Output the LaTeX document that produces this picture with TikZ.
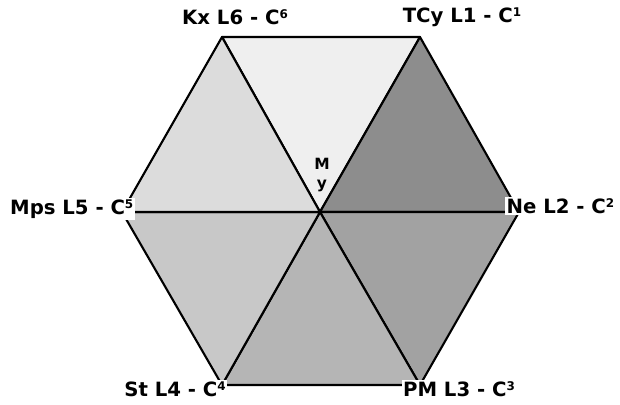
\documentclass[tikz,border=0pt]{standalone}
\usepackage{fontspec}
\setmainfont{DejaVu Sans}
\usetikzlibrary{calc,positioning}

\newcommand{\supdig}[1]{\raisebox{0.55ex}{\fontsize{8.5}{9}\selectfont #1}}

\begin{document}
\begin{tikzpicture}[x=0.025cm,y=-0.025cm,
                    sector/.style={draw=black,line width=1.5pt,line join=round},
                    tip node/.style={fill=white,inner sep=1pt,font=\bfseries\fontsize{14}{16}\selectfont}]
  \useasboundingbox (0,0) rectangle (620,404);

  \coordinate (O) at (320,212);
  \coordinate (v1) at (420,37);
  \coordinate (v2) at (519,212);
  \coordinate (v3) at (420,385);
  \coordinate (v4) at (222,385);
  \coordinate (v5) at (122,212);
  \coordinate (v6) at (222,37);

  % six sectors
  \filldraw[sector,fill={rgb,255:red,239;green,239;blue,239}] (O) -- (v6) -- (v1) -- cycle;
  \filldraw[sector,fill={rgb,255:red,141;green,141;blue,141}] (O) -- (v1) -- (v2) -- cycle;
  \filldraw[sector,fill={rgb,255:red,162;green,162;blue,162}] (O) -- (v2) -- (v3) -- cycle;
  \filldraw[sector,fill={rgb,255:red,181;green,181;blue,181}] (O) -- (v3) -- (v4) -- cycle;
  \filldraw[sector,fill={rgb,255:red,200;green,200;blue,200}] (O) -- (v4) -- (v5) -- cycle;
  \filldraw[sector,fill={rgb,255:red,220;green,220;blue,220}] (O) -- (v5) -- (v6) -- cycle;

  \node[font=\bfseries\fontsize{11}{13}\selectfont,align=center] (my) at (322,175) {M\\y};

  \node[tip node] (kx) at (235,17) {Kx L6 - C\supdig{6}};
  \node[tip node] (tcy) at (462,17) {TCy L1 - C\supdig{1}};
  \node[tip node,anchor=west] (ne) at (505,206) {Ne L2 - C\supdig{2}};
  \node[tip node] (pm) at (459,389) {PM L3 - C\supdig{3}};
  \node[tip node] (st) at (175,389) {St L4 - C\supdig{4}};
  \node[tip node,anchor=east] (mps) at (135,209) {Mps L5 - C\supdig{5}};
\end{tikzpicture}
\end{document}
